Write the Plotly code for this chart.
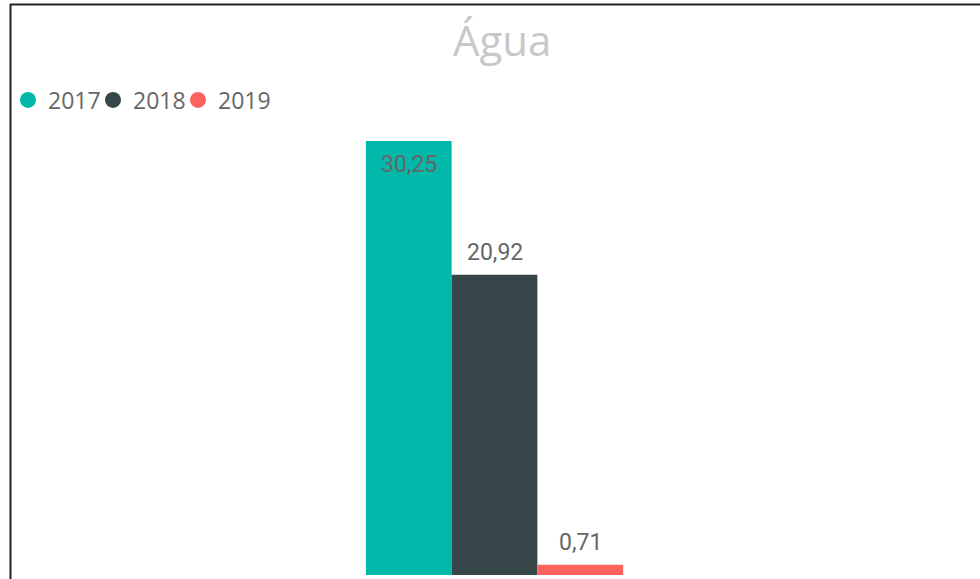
import plotly.graph_objects as go

categories = ["Água"]
years = ["2017", "2018", "2019"]
values_2017 = [30.25]
values_2018 = [20.92]
values_2019 = [0.71]
series = [values_2017, values_2018, values_2019]
colors = ["#01B8AA", "#374649", "#FD625E"]
label_inside = [True, False, False]

BARGAP = 0.734

def fmt(v):
    return f"{v:.2f}".replace(".", ",")

fig = go.Figure()
for k, (yr, vals, col) in enumerate(zip(years, series, colors)):
    fig.add_trace(go.Bar(
        x=categories, y=vals, name=yr, marker_color=col, marker_line_width=0,
        showlegend=False, hoverinfo="skip",
    ))
    fig.add_trace(go.Scatter(
        x=[None], y=[None], mode="markers", name=yr,
        marker=dict(symbol="circle", size=16, color=col), showlegend=True,
        legendwidth=40 if k < len(years) - 1 else 80,
    ))

# data labels, positioned at each bar's centre through the category axis
bar_w = (1 - BARGAP) / len(series)
for i, (vals, inside) in enumerate(zip(series, label_inside)):
    for ci, v in enumerate(vals):
        fig.add_annotation(
            x=ci + (i - (len(series) - 1) / 2) * bar_w, y=v, xref="x", yref="y",
            text=fmt(v), showarrow=False, xanchor="center", yanchor="middle",
            yshift=-23 if inside else 22,
            font=dict(family="Roboto", size=23, color="#666666"),
        )

fig.update_layout(
    width=980, height=579,
    margin=dict(l=11, r=2, t=141, b=4),
    paper_bgcolor="white", plot_bgcolor="white",
    barmode="group", bargap=BARGAP, bargroupgap=0,
    xaxis=dict(visible=False),
    yaxis=dict(visible=False, range=[0, 30.25]),
    showlegend=True,
    legend=dict(orientation="h", x=(8 - 11) / 967, xanchor="left", y=(575 - 100) / 434, yanchor="middle",
                font=dict(family="Open Sans", size=23, color="#666666"),
                itemwidth=30, tracegroupgap=0, bgcolor="rgba(0,0,0,0)"),
)
fig.add_annotation(text="Água", xref="paper", yref="paper",
                   x=(502 - 11) / 967, y=(575 - 40) / 434, xanchor="center", yanchor="middle",
                   showarrow=False, font=dict(family="Open Sans", size=42, color="#C8C8C8", weight=400))
# chart frame lines (top and left)
fig.add_shape(type="line", xref="paper", yref="paper",
              x0=(10.5 - 11) / 967, x1=(10.5 - 11) / 967, y0=(575 - 600) / 434, y1=(575 - 4) / 434,
              line=dict(color="#222222", width=2))
fig.add_shape(type="line", xref="paper", yref="paper",
              x0=(10 - 11) / 967, x1=(990 - 11) / 967, y0=(575 - 4.5) / 434, y1=(575 - 4.5) / 434,
              line=dict(color="#222222", width=2))

fig.write_html("out.html", config={"displayModeBar": False},
               post_script="document.body.style.margin='0';document.body.style.overflow='hidden';")
